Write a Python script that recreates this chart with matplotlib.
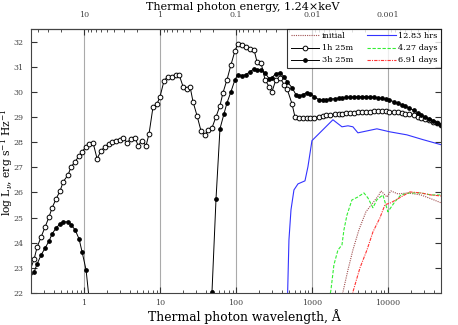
import numpy as np
import matplotlib
matplotlib.use("Agg")
import matplotlib.pyplot as plt
from matplotlib.ticker import FuncFormatter, LogLocator, NullFormatter

# log10 of wavelength (Angstrom) and log L_nu for each series
lw_1h = [-0.71, -0.658, -0.618, -0.566, -0.513, -0.461, -0.421, -0.368, -0.316, -0.276, -0.211, -0.171,
         -0.118, -0.066, -0.026, 0.026, 0.066, 0.118, 0.171, 0.224, 0.276, 0.329, 0.368, 0.421,
         0.474, 0.513, 0.566, 0.618, 0.671, 0.711, 0.763, 0.816, 0.855, 0.908, 0.961, 1.0,
         1.053, 1.105, 1.158, 1.211, 1.25, 1.303, 1.355, 1.395, 1.434, 1.487, 1.539, 1.592,
         1.632, 1.684, 1.737, 1.789, 1.829, 1.882, 1.934, 1.987, 2.026, 2.079, 2.132, 2.184,
         2.237, 2.276, 2.329, 2.382, 2.434, 2.474, 2.526, 2.579, 2.632, 2.671, 2.737, 2.776,
         2.829, 2.88, 2.93, 2.98, 3.03, 3.09, 3.14, 3.19, 3.24, 3.30, 3.35, 3.40, 3.45, 3.50,
         3.56, 3.61, 3.66, 3.71, 3.76, 3.82, 3.87, 3.92, 3.97, 4.02, 4.08, 4.13, 4.18, 4.23,
         4.28, 4.34, 4.39, 4.44, 4.49, 4.54, 4.60, 4.65, 4.70]
L_1h = [22.9, 23.35, 23.83, 24.23, 24.63, 25.03, 25.39, 25.75, 26.06, 26.42, 26.70, 27.02,
        27.22, 27.46, 27.62, 27.82, 27.94, 27.98, 27.34, 27.66, 27.82, 27.94, 28.02, 28.06,
        28.10, 28.18, 27.98, 28.14, 28.18, 27.86, 28.06, 27.86, 28.33, 29.41, 29.53, 29.81,
        30.45, 30.61, 30.61, 30.69, 30.69, 30.21, 30.13, 30.21, 29.61, 29.05, 28.45, 28.29,
        28.49, 28.57, 29.01, 29.45, 29.97, 30.49, 31.08, 31.64, 31.92, 31.88, 31.80, 31.72,
        31.68, 31.20, 31.16, 30.49, 30.21, 30.01, 30.49, 30.57, 30.29, 30.13, 29.53, 29.01,
        28.97, 28.96, 28.96, 28.96, 28.97, 29.01, 29.05, 29.08, 29.09, 29.11, 29.12, 29.13,
        29.15, 29.16, 29.17, 29.18, 29.20, 29.20, 29.21, 29.22, 29.22, 29.22, 29.22, 29.21,
        29.20, 29.18, 29.16, 29.13, 29.10, 29.06, 29.01, 28.97, 28.92, 28.87, 28.81, 28.75,
        28.68]

lw_3h = [-0.71, -0.658, -0.618, -0.566, -0.513, -0.461, -0.421, -0.368, -0.316, -0.276, -0.211,
         -0.171, -0.118, -0.066, -0.026, 0.026, 0.079, np.nan,
         1.684, 1.737, 1.789, 1.842, 1.882, 1.934, 1.987, 2.026, 2.079, 2.132, 2.184, 2.237,
         2.276, 2.329, 2.382, 2.434, 2.474, 2.526, 2.579, 2.632, 2.671, 2.737, 2.789, 2.829,
         2.88, 2.93, 2.98, 3.03, 3.09, 3.14, 3.19, 3.24, 3.30, 3.35, 3.40, 3.45, 3.50, 3.56,
         3.61, 3.66, 3.71, 3.76, 3.82, 3.87, 3.92, 3.97, 4.02, 4.08, 4.13, 4.18, 4.23, 4.28,
         4.34, 4.39, 4.44, 4.49, 4.54, 4.60, 4.65, 4.70]
L_3h = [22.62, 22.84, 23.16, 23.51, 23.79, 24.07, 24.35, 24.59, 24.75, 24.83, 24.83,
        24.71, 24.51, 24.15, 23.63, 22.92, 21.4, np.nan,
        22.05, 25.75, 28.53, 29.13, 29.57, 30.01, 30.49, 30.69, 30.65, 30.69, 30.80, 30.92,
        30.88, 30.88, 30.76, 30.53, 30.57, 30.73, 30.76, 30.61, 30.41, 30.17, 29.89, 29.85,
        29.89, 29.97, 29.93, 29.81, 29.69, 29.67, 29.69, 29.71, 29.73, 29.75, 29.77, 29.78,
        29.79, 29.80, 29.81, 29.81, 29.81, 29.80, 29.79, 29.77, 29.74, 29.71, 29.67, 29.61,
        29.55, 29.49, 29.43, 29.35, 29.27, 29.17, 29.09, 29.01, 28.93, 28.85, 28.77, 28.68]

lw_12h = [2.678, 2.697, 2.724, 2.763, 2.816, 2.908, 2.947, 3.0, 3.276, 3.395, 3.474, 3.539,
          3.605, 3.855, 4.026, 4.25, 4.461, 4.697]
L_12h = [21.8, 24.11, 25.31, 26.10, 26.34, 26.46, 27.02, 28.06, 28.89, 28.61, 28.65, 28.61,
         28.37, 28.53, 28.41, 28.29, 28.10, 27.90]

lw_4d = [3.230, 3.25, 3.289, 3.342, 3.395, 3.421, 3.461, 3.526, 3.605, 3.684, 3.737, 3.803,
         3.855, 3.934, 4.0, 4.092, 4.171, 4.289, 4.434, 4.566, 4.697]
L_4d = [21.8, 22.12, 23.12, 23.71, 23.91, 24.51, 25.10, 25.70, 25.82, 25.98, 25.78, 25.39,
        25.71, 25.90, 25.23, 25.63, 25.90, 25.98, 25.98, 25.90, 25.90]

lw_init = [3.388, 3.408, 3.474, 3.539, 3.618, 3.711, 3.803, 3.882, 3.908, 3.987, 4.039, 4.132,
           4.263, 4.434, 4.566, 4.697]
L_init = [21.8, 22.04, 22.92, 23.71, 24.51, 25.23, 25.59, 25.90, 26.06, 25.82, 26.06, 25.94,
          25.98, 25.90, 25.75, 25.59]

lw_6d = [3.530, 3.539, 3.632, 3.724, 3.803, 3.895, 3.961, 4.039, 4.132, 4.289, 4.434, 4.566,
         4.697]
L_6d = [21.8, 22.04, 23.0, 23.71, 24.43, 24.99, 25.51, 25.59, 25.75, 26.02, 25.98, 25.90, 25.86]

bottom_ticks = [1, 10, 100, 1000, 10000]
top_ticks = [10, 1, 0.1, 0.01, 0.001]

plt.rcParams['font.family'] = ['DejaVu Serif']
plt.rcParams['mathtext.fontset'] = 'dejavuserif'

fig = plt.figure(figsize=(4.58, 3.25), dpi=100)
ax = fig.add_axes([31 / 458, 1 - 293 / 325, 410 / 458, 264 / 325])

w = lambda a: 10 ** np.asarray(a, dtype=float)

ax.plot(w(lw_init), L_init, color='#a05050', ls=(0, (1, 1)), lw=0.8, label='initial')
ax.plot(w(lw_1h), L_1h, color='black', lw=0.7, marker='o', ms=3.4, mfc='white',
        mec='black', mew=0.7, markevery=slice(1, None), label='1h 25m')
ax.plot(w(lw_3h), L_3h, color='black', lw=0.7, marker='o', ms=2.4, mfc='black',
        mec='black', markevery=[i for i in range(1, len(lw_3h)) if i != 16], label='3h 25m')
ax.plot(w(lw_12h), L_12h, color='#3333ff', lw=0.8, label='12.83 hrs')
ax.plot(w(lw_4d), L_4d, color='#33ee33', ls=(0, (3, 1.5)), lw=0.8, label='4.27 days')
ax.plot(w(lw_6d), L_6d, color='#ff3333', ls=(0, (3, 1, 1, 1)), lw=0.8, label='6.91 days')

ax.set_xscale('log')
ax.set_xlim(0.2, 5e4)
ax.set_ylim(22, 32.5)
ax.set_yticks(range(22, 33))
ax.set_xticks(bottom_ticks)
ax.xaxis.set_major_formatter(FuncFormatter(lambda v, p: f'{v:g}'))
ax.xaxis.set_minor_locator(LogLocator(base=10, subs=np.arange(2, 10), numticks=20))
ax.xaxis.set_minor_formatter(NullFormatter())
for v in bottom_ticks:
    ax.axvline(v, color='#aaaaaa', lw=0.8, zorder=0)

ax.tick_params(which='both', direction='in', labelsize=5.7, colors='#333333', labelcolor='#444444')
ax.tick_params(which='major', length=4, right=True)
ax.tick_params(which='minor', length=2.5)
ax.tick_params(axis='x', which='major', pad=4.5)
ax.tick_params(axis='y', which='major', pad=5.2)

sec = ax.secondary_xaxis('top', functions=(lambda x: 10 / x, lambda x: 10 / x))
sec.set_xticks(top_ticks)
sec.xaxis.set_major_formatter(FuncFormatter(lambda v, p: f'{v:g}'))
sec.xaxis.set_minor_locator(LogLocator(base=10, subs=np.arange(2, 10), numticks=20))
sec.xaxis.set_minor_formatter(NullFormatter())
sec.tick_params(which='both', direction='in', labelsize=5.7, colors='#333333', labelcolor='#444444')
sec.tick_params(which='major', length=4, pad=7.2)
sec.tick_params(which='minor', length=2.5)
sec.set_xlabel('Thermal photon energy, 1.24×keV', fontsize=8, va='baseline')
sec.xaxis.set_label_coords(0.517, (293 - 10.5) / 264, transform=ax.transAxes)

ax.set_xlabel('Thermal photon wavelength, Å', fontsize=8.9, va='baseline')
ax.xaxis.set_label_coords(0.52, (293 - 320.5) / 264)
ax.set_ylabel(r'log L$_\nu$, erg s$^{-1}$ Hz$^{-1}$', fontsize=7.7)
ax.yaxis.set_label_coords((15 - 31) / 410, (293 - 162.5) / 264)

for s in ax.spines.values():
    s.set_color('#444444')
    s.set_linewidth(0.8)

leg = ax.legend(loc='upper right', ncol=2, fontsize=5.9, frameon=True, fancybox=False,
                edgecolor='black', borderaxespad=0, handlelength=3.5, handletextpad=0.3,
                columnspacing=1.7, labelspacing=0.5, borderpad=0.4)
leg.get_frame().set_linewidth(0.8)

fig.savefig('out.png', dpi=100)
